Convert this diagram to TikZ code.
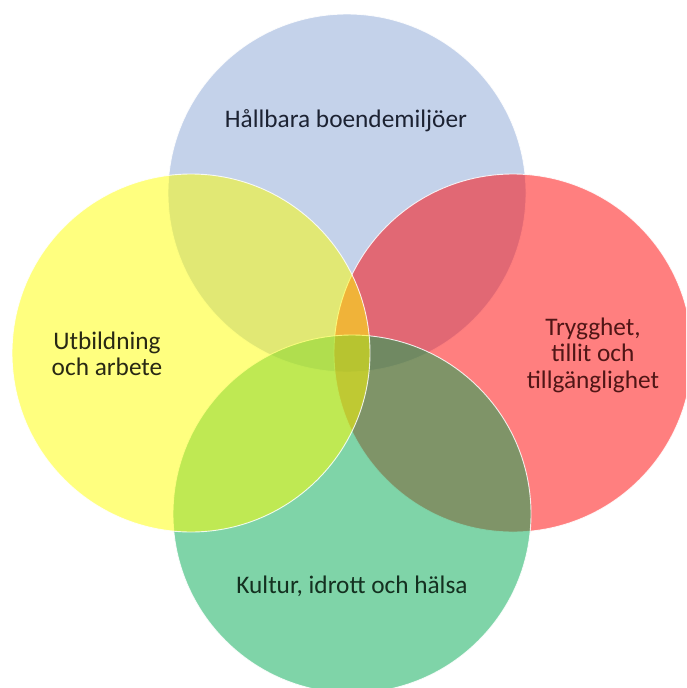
\documentclass[tikz,border=0pt]{standalone}
\usepackage{fontspec}
\setmainfont{Carlito}
\definecolor{cblue}{RGB}{139,167,215}
\definecolor{cred}{RGB}{255,0,0}
\definecolor{cgreen}{RGB}{0,170,82}
\definecolor{cyellow}{RGB}{255,255,0}
\definecolor{tblue}{RGB}{28,34,50}
\definecolor{tred}{RGB}{80,22,22}
\definecolor{tyellow}{RGB}{40,40,20}
\definecolor{tgreen}{RGB}{20,48,32}
\tikzset{
  venn/.style={circle, minimum size=358pt, inner sep=0pt, fill opacity=0.5,
    draw=white, draw opacity=0.85, line width=0.9pt},
  lbl/.style={inner sep=0pt, align=center, font=\fontsize{25.3}{26.5}\selectfont}
}
\begin{document}
\begin{tikzpicture}[x=1pt,y=-1pt]
\useasboundingbox (0,0) rectangle (686,688);
\clip (0,0) rectangle (686,688);
\fill[white] (0,0) rectangle (686,688);
\node[venn, fill=cblue]   (top)    at (347,193) {};
\node[venn, fill=cred]    (right)  at (513,353) {};
\node[venn, fill=cgreen]  (bottom) at (352,514) {};
\node[venn, fill=cyellow] (left)   at (191,353) {};
\node[lbl, text=tblue, anchor=base]  (ltop)    at (346,127) {Hållbara boendemiljöer};
\node[lbl, text=tyellow]             (lleft)   at (107,354) {Utbildning\\och arbete};
\node[lbl, text=tred]                (lright)  at (593,355) {Trygghet,\\tillit och\\tillgänglighet};
\node[lbl, text=tgreen, anchor=base] (lbottom) at (352,593) {Kultur, idrott och hälsa};
\end{tikzpicture}
\end{document}
